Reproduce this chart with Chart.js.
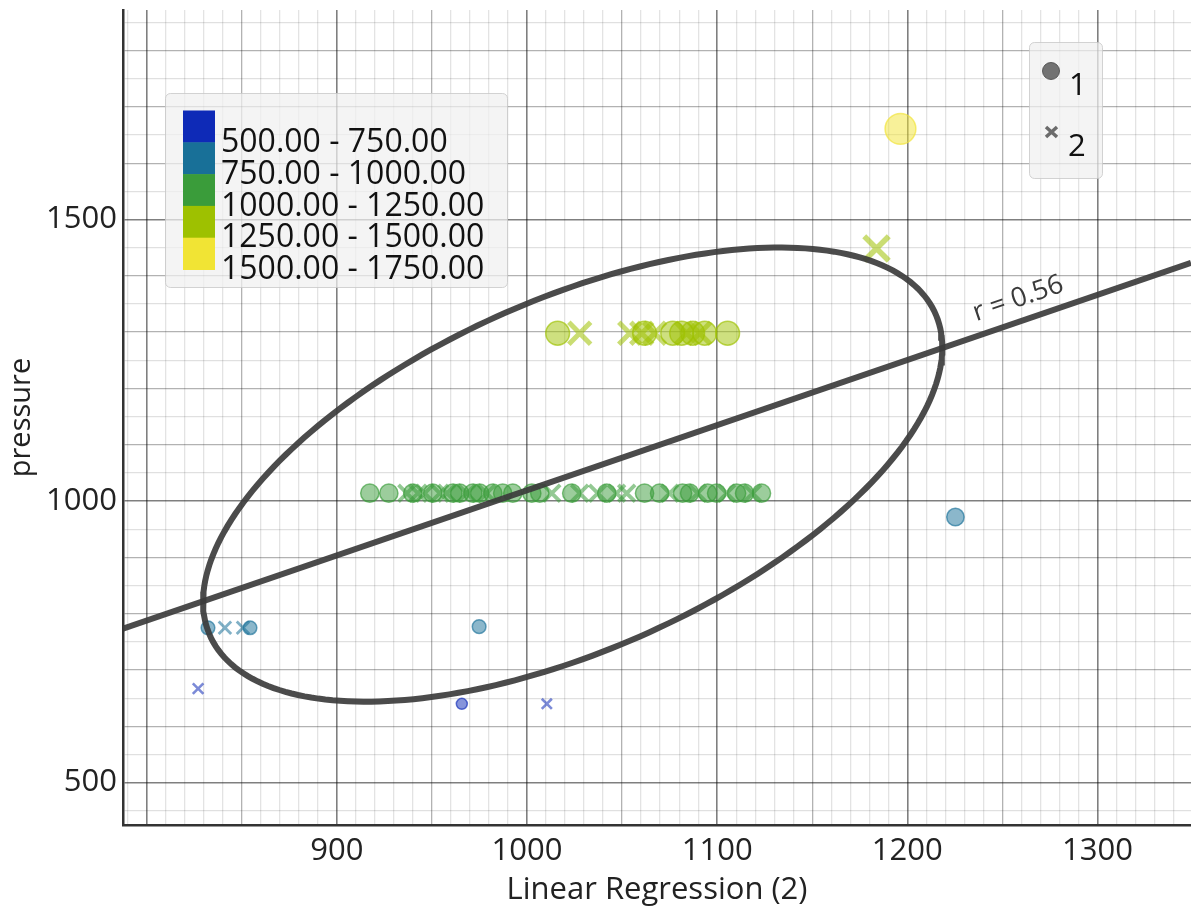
<!DOCTYPE html>
<html>
<head>
<meta charset="utf-8">
<script src="https://cdn.jsdelivr.net/npm/chart.js@4.4.1/dist/chart.umd.min.js"></script>
<style>
  html, body { margin: 0; padding: 0; background: #ffffff; }
  #wrap { position: relative; width: 1191px; height: 915px; }
</style>
</head>
<body>
<div id="wrap"><canvas id="c"></canvas></div>
<script>
// ---------------- DATA ----------------
const xMin = 787.5, xMax = 1349.2;
const yMin = 424.8, yMax = 1872;
const xTickLabels = [900, 1000, 1100, 1200, 1300];
const yTickLabels = [500, 1000, 1500];
const xTitle = 'Linear Regression (2)';
const yTitle = 'pressure';

const binEdges = [500, 750, 1000, 1250, 1500, 1750];
const binLabels = ['500.00 - 750.00', '750.00 - 1000.00', '1000.00 - 1250.00', '1250.00 - 1500.00', '1500.00 - 1750.00'];
const binColors = [[14, 42, 183], [24, 112, 152], [58, 156, 58], [158, 193, 0], [241, 228, 52]];
const shapeLabels = ['1', '2'];

// shape "1" (circles)
const circleX = [965.7,
  832.2, 854.3, 974.8, 1225.3,
  917.3, 927.3, 939.9, 950.4, 961.0, 964.6, 971.5, 975.1, 982.0, 987.2, 992.5, 1002.5, 1006.7, 1023.5, 1041.9, 1061.8, 1069.7, 1081.8, 1085.5, 1095.0, 1099.7, 1110.2, 1114.4, 1123.3,
  1016.1, 1061.8, 1076.6, 1081.3, 1087.1, 1093.4, 1105.5,
  1196.4];
const circleY = [640,
  775, 775, 777, 971.6,
  1014, 1014, 1014, 1014, 1014, 1014, 1014, 1014, 1014, 1014, 1014, 1014, 1014, 1014, 1014, 1014, 1014, 1014, 1014, 1014, 1014, 1014, 1014, 1014,
  1298, 1298, 1298, 1298, 1298, 1298, 1298,
  1661];

// shape "2" (crosses)
const crossX = [827.0, 1010.4,
  841.1, 850.6,
  936.8, 942.6, 946.2, 954.1, 957.8, 968.3, 978.8, 1013.0, 1027.7, 1037.2, 1047.1, 1052.4, 1075.0, 1089.7, 1105.0, 1118.6,
  1027.7, 1054.0, 1060.3, 1067.1, 1083.9, 1090.8,
  1183.8];
const crossY = [667, 640,
  775, 775,
  1014, 1014, 1014, 1014, 1014, 1014, 1014, 1014, 1014, 1014, 1014, 1014, 1014, 1014, 1014, 1014,
  1298, 1298, 1298, 1298, 1298, 1298,
  1448.6];

// regression / confidence ellipse statistics
const meanX = 1024, meanY = 1047;
const sdX = 194.4, sdY = 403.2;
const corrR = 0.56;
const regSlope = 1.156;
const rLabel = 'r = 0.56';

// ---------------- HELPERS ----------------
function binOf(v) {
  for (let i = 0; i < binEdges.length - 1; i++) if (v < binEdges[i + 1]) return i;
  return binEdges.length - 2;
}
function rgba(c, a) { return `rgba(${c[0]},${c[1]},${c[2]},${a})`; }
function sizeOf(v) { return 5.5 + (v - 640) * 0.0097; }

const circlePts = circleX.map((x, i) => ({ x, y: circleY[i] }));
const crossPts = crossX.map((x, i) => ({ x, y: crossY[i] }));

const regLine = [xMin, xMax].map(x => ({ x, y: meanY + regSlope * (x - meanX) }));
const ellipse = [];
for (let k = 0; k <= 240; k++) {
  const t = (k / 240) * 2 * Math.PI;
  ellipse.push({
    x: meanX + sdX * Math.cos(t),
    y: meanY + sdY * (corrR * Math.cos(t) + Math.sqrt(1 - corrR * corrR) * Math.sin(t))
  });
}

function gridTicks(min, max, step) {
  const out = [];
  for (let v = Math.ceil(min / step) * step; v <= max; v += step) out.push({ value: v });
  return out;
}

const FONT = '"Segoe UI", "Open Sans", "Noto Sans", sans-serif';

// ---------------- OVERLAY PLUGIN ----------------
const overlay = {
  id: 'overlay',
  afterDatasetsDraw(chart) {
    const ctx = chart.ctx, xs = chart.scales.x, ys = chart.scales.y;
    ctx.save();
    // r label along the regression line
    const p0 = { x: xs.getPixelForValue(regLine[0].x), y: ys.getPixelForValue(regLine[0].y) };
    const p1 = { x: xs.getPixelForValue(regLine[1].x), y: ys.getPixelForValue(regLine[1].y) };
    const ang = Math.atan2(p1.y - p0.y, p1.x - p0.x);
    const lx = xs.getPixelForValue(1262);
    const ly = ys.getPixelForValue(meanY + regSlope * (1262 - meanX));
    ctx.translate(lx + Math.sin(ang) * 22, ly - Math.cos(ang) * 22);
    ctx.rotate(ang);
    ctx.font = `27px ${FONT}`;
    ctx.fillStyle = '#3a3a3a';
    ctx.textAlign = 'center';
    ctx.textBaseline = 'middle';
    ctx.fillText(rLabel, 0, 0);
    ctx.restore();

    // colour legend
    ctx.save();
    ctx.fillStyle = 'rgba(240,240,240,0.72)';
    ctx.strokeStyle = 'rgba(200,200,200,0.8)';
    ctx.lineWidth = 1;
    ctx.beginPath();
    ctx.roundRect(165.5, 93.5, 342, 194, 5);
    ctx.fill(); ctx.stroke();
    const rowH = 31.8;
    binLabels.forEach((lab, i) => {
      ctx.fillStyle = rgba(binColors[i], 1);
      ctx.fillRect(183, 110.5 + i * rowH, 32, rowH + 0.5);
      ctx.fillStyle = '#111';
      ctx.font = `32px ${FONT}`;
      ctx.textAlign = 'left';
      ctx.textBaseline = 'alphabetic';
      ctx.fillText(lab, 221, 152 + i * rowH);
    });
    // shape legend
    ctx.fillStyle = 'rgba(240,240,240,0.72)';
    ctx.strokeStyle = 'rgba(200,200,200,0.8)';
    ctx.beginPath();
    ctx.roundRect(1029.5, 42.5, 73, 136, 5);
    ctx.fill(); ctx.stroke();
    ctx.fillStyle = 'rgba(100,100,100,0.9)';
    ctx.strokeStyle = 'rgba(80,80,80,0.9)';
    ctx.lineWidth = 1;
    ctx.beginPath(); ctx.arc(1051, 71, 8.5, 0, 2 * Math.PI); ctx.fill(); ctx.stroke();
    ctx.strokeStyle = 'rgba(100,100,100,0.95)';
    ctx.lineWidth = 3.5;
    ctx.beginPath();
    ctx.moveTo(1046, 127); ctx.lineTo(1057, 137);
    ctx.moveTo(1057, 127); ctx.lineTo(1046, 137);
    ctx.stroke();
    ctx.fillStyle = '#111';
    ctx.font = `31px ${FONT}`;
    ctx.fillText(shapeLabels[0], 1069, 95);
    ctx.fillText(shapeLabels[1], 1068, 156);
    ctx.restore();
  }
};

// ---------------- CHART ----------------
new Chart(document.getElementById('c'), {
  type: 'scatter',
  data: {
    datasets: [
      {
        label: 'regression', data: regLine, showLine: true, pointRadius: 0,
        borderColor: 'rgba(60,60,60,0.92)', borderWidth: 6, fill: false
      },
      {
        label: 'ellipse', data: ellipse, showLine: true, pointRadius: 0,
        borderColor: 'rgba(60,60,60,0.92)', borderWidth: 6, fill: false, tension: 0
      },
      {
        label: 'cross', data: crossPts, pointStyle: 'crossRot',
        radius: c => c.raw ? sizeOf(c.raw.y) * 1.3 : 0,
        borderWidth: c => c.raw ? Math.max(2.6, sizeOf(c.raw.y) * 0.42) : 0,
        borderColor: c => c.raw ? rgba(binColors[binOf(c.raw.y)], 0.55) : 'transparent',
        backgroundColor: 'transparent'
      },
      {
        label: 'circle', data: circlePts, pointStyle: 'circle',
        radius: c => c.raw ? sizeOf(c.raw.y) : 0,
        borderWidth: 1.5,
        backgroundColor: c => c.raw ? rgba(binColors[binOf(c.raw.y)], 0.5) : 'transparent',
        borderColor: c => c.raw ? rgba(binColors[binOf(c.raw.y)], 0.65) : 'transparent'
      }
    ]
  },
  options: {
    responsive: true,
    maintainAspectRatio: false,
    animation: false,
    layout: { autoPadding: false, padding: { top: 10, right: 0, left: 0, bottom: 0 } },
    plugins: { legend: { display: false }, tooltip: { enabled: false } },
    elements: { point: { hoverRadius: 0 } },
    scales: {
      x: {
        type: 'linear', min: xMin, max: xMax,
        afterBuildTicks: ax => { ax.ticks = gridTicks(xMin, xMax, 10); },
        afterFit: ax => { ax.height = 90; ax.paddingLeft = 0; ax.paddingRight = 0; },
        ticks: {
          autoSkip: false, maxRotation: 0, minRotation: 0, padding: 8,
          callback: v => xTickLabels.includes(v) ? String(v) : '',
          font: { size: 31, family: FONT }, color: '#222'
        },
        grid: {
          drawTicks: false,
          color: c => c.tick.value % 100 === 0 ? 'rgba(0,0,0,0.5)' : (c.tick.value % 50 === 0 ? 'rgba(0,0,0,0.3)' : 'rgba(0,0,0,0.11)'),
          lineWidth: c => c.tick.value % 100 === 0 ? 1.6 : 1.3
        },
        border: { display: true, color: '#333', width: 2.5 },
        title: { display: true, text: xTitle, font: { size: 31, family: FONT }, color: '#222', padding: { top: 0, bottom: 6 } }
      },
      y: {
        type: 'linear', min: yMin, max: yMax,
        afterBuildTicks: ax => { ax.ticks = gridTicks(yMin, yMax, 50); },
        afterFit: ax => { ax.width = 123; ax.paddingTop = 0; ax.paddingBottom = 0; },
        ticks: {
          autoSkip: false, padding: 6,
          callback: v => yTickLabels.includes(v) ? String(v) : '',
          font: { size: 31, family: FONT }, color: '#222'
        },
        grid: {
          drawTicks: false,
          color: c => c.tick.value % 500 === 0 ? 'rgba(0,0,0,0.5)' : (c.tick.value % 100 === 0 ? 'rgba(0,0,0,0.3)' : 'rgba(0,0,0,0.12)'),
          lineWidth: c => c.tick.value % 500 === 0 ? 1.6 : 1.3
        },
        border: { display: true, color: '#333', width: 2.5 },
        title: { display: true, text: yTitle, font: { size: 29, family: FONT }, color: '#222', padding: { top: 4, bottom: 0 } }
      }
    }
  },
  plugins: [overlay]
});
</script>
</body>
</html>
